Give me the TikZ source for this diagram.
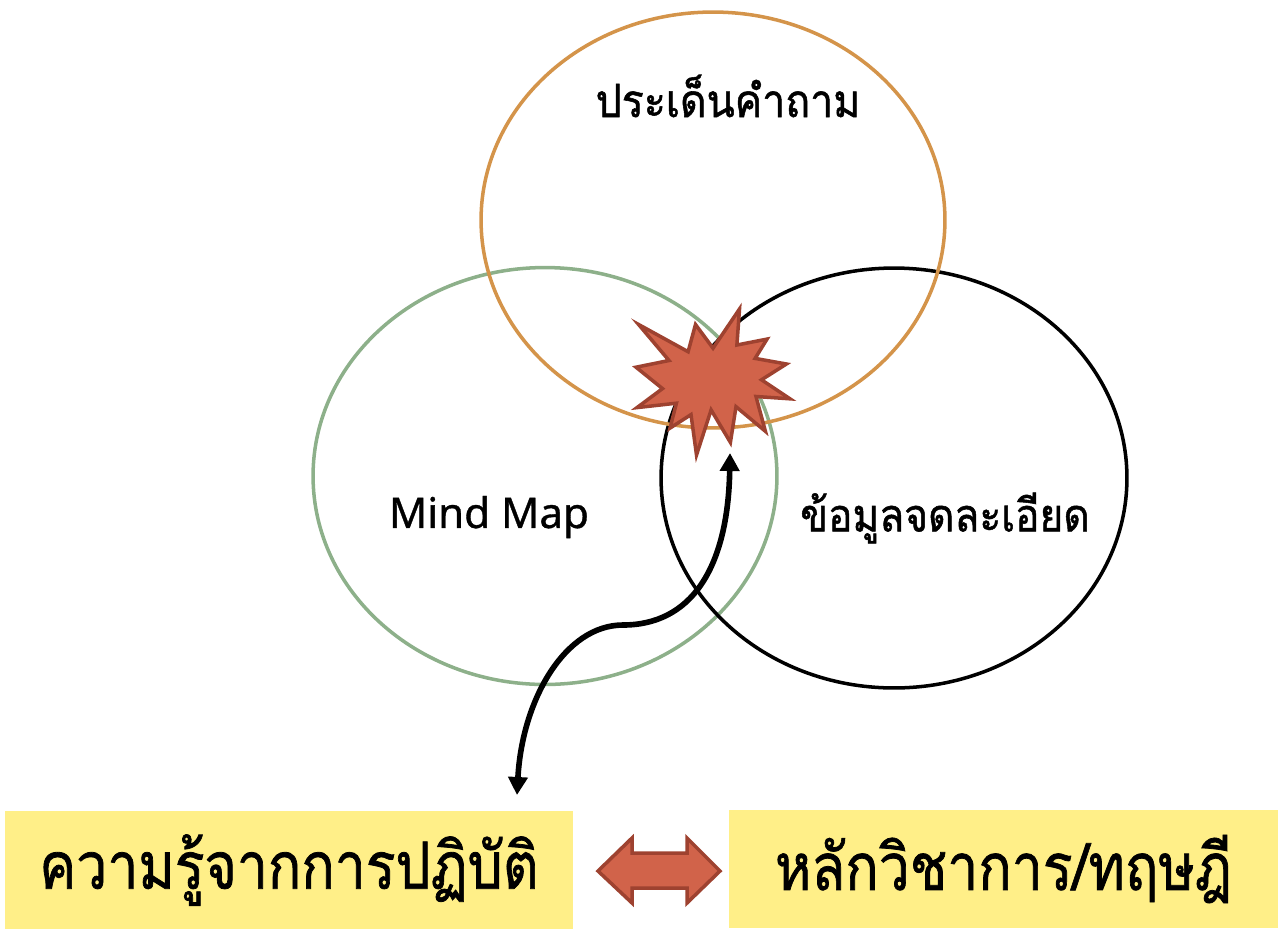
\documentclass[tikz,border=0pt]{standalone}
\usepackage{fontspec}
\usepackage{graphicx}
\newfontfamily\thai[Script=Thai,FakeBold=1.2]{Loma}
\newfontfamily\latinfont[FakeBold=0.8]{Noto Sans}
\usetikzlibrary{shapes.geometric,arrows.meta}
\definecolor{orangeline}{RGB}{212,148,74}
\definecolor{greenline}{RGB}{141,176,138}
\definecolor{burstfill}{RGB}{209,99,74}
\definecolor{burstline}{RGB}{158,66,48}
\definecolor{boxyellow}{RGB}{255,239,136}
\tikzset{
  ring/.style={ellipse, line width=2pt, inner sep=0pt},
  label text/.style={font=\thai\fontsize{26}{32}\selectfont},
  boxtext/.style={fill=boxyellow, inner sep=0pt, font=\thai\fontsize{37}{44}\selectfont},
  burst/.style={fill=burstfill, draw=burstline, line width=2pt, line join=miter},
  linkarrow/.style={line width=3.2pt, {Triangle[width=0.38cm,length=0.36cm]}-{Triangle[width=0.38cm,length=0.36cm]}}
}
\begin{document}
\begin{tikzpicture}[x=0.02cm,y=-0.02cm]
\useasboundingbox (0,0) rectangle (1280,930);
% rings
\node[ring, draw=greenline, minimum width=9.28cm, minimum height=8.34cm] (mind) at (545,476) {};
\node[ring, draw=black, minimum width=9.32cm, minimum height=8.4cm] (detail) at (894,478) {};
\node[ring, draw=orangeline, minimum width=9.28cm, minimum height=8.32cm] (issue) at (713,220) {};
% labels
\node[label text] (issuetext) at (728,96) {\scalebox{0.9}[1]{ประเด็นคำถาม}};
\node[font=\latinfont\fontsize{24}{28}\selectfont] (mindtext) at (489,517) {Mind Map};
\node[label text] (detailtext) at (945,518) {\scalebox{0.89}[1]{ข้อมูลจดละเอียด}};
% starburst
\draw[burst] (713.0,348.2) -- (739.5,309) -- (736.9,345.0) -- (767.0,339.1) -- (755.1,358.4)
  -- (786.4,364.0) -- (761.5,379.8) -- (790,398.8) -- (756.0,396.5) -- (765.4,431.3)
  -- (736.0,406.7) -- (730.4,442.4) -- (711.1,409.9) -- (696.5,455) -- (691.0,414.6)
  -- (670.0,428.1) -- (676.4,403.2) -- (637.0,407.6) -- (662.5,388.6) -- (636,367.2)
  -- (669.0,360.5) -- (638.6,324.5) -- (688.1,351.7) -- (695.5,324.5) -- cycle;
\coordinate (bursttip) at (730,453);
% boxes
\node[boxtext, minimum width=11.36cm, minimum height=2.36cm] (practice) at (289,870) {\scalebox{0.85}[1]{ความรู้จากการปฏิบัติ}};
\node[boxtext, minimum width=10.98cm, minimum height=2.36cm] (theory) at (1003.5,869) {\scalebox{0.85}[1]{หลักวิชาการ/ทฤษฎี}};
\coordinate (practicetop) at (517,795);
% curved arrow
\draw[linkarrow] (practicetop) .. controls (522,700) and (565,625) .. (623,625)
  .. controls (690,625) and (728,570) .. (bursttip);
% double arrow between boxes
\draw[burst] (598,871) -- (632,838) -- (632,853) -- (687,853) -- (687,838) -- (720,871)
  -- (687,903) -- (687,888) -- (632,888) -- (632,903) -- cycle;
\end{tikzpicture}
\end{document}
